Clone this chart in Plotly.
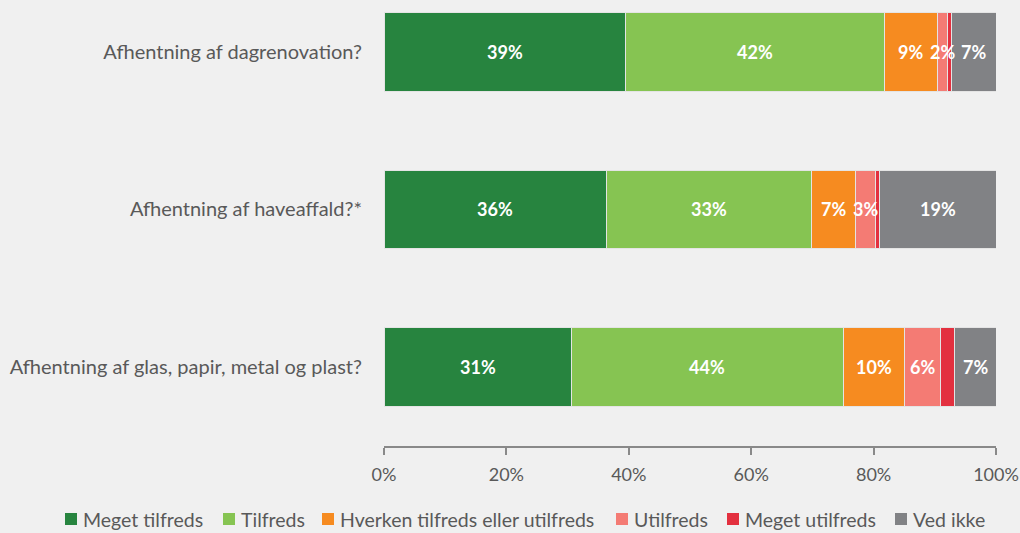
import plotly.graph_objects as go

# --- Data ---
questions = [
    "Afhentning af dagrenovation?",
    "Afhentning af haveaffald?*",
    "Afhentning af glas, papir, metal og plast?",
]
series_names = ["Meget tilfreds", "Tilfreds", "Hverken tilfreds eller utilfreds",
                "Utilfreds", "Meget utilfreds", "Ved ikke"]
meget_tilfreds = [39.4, 36.4, 30.6]
tilfreds = [42.3, 33.4, 44.4]
hverken = [8.7, 7.3, 10.1]
utilfreds = [1.7, 3.2, 5.8]
meget_utilfreds = [0.6, 0.6, 2.3]
ved_ikke = [7.3, 19.1, 6.8]
tick_vals = [0, 20, 40, 60, 80, 100]
tick_text = ["0%", "20%", "40%", "60%", "80%", "100%"]

values = [meget_tilfreds, tilfreds, hverken, utilfreds, meget_utilfreds, ved_ikke]
colors = ["#27843f", "#86c452", "#f68b20", "#f47b74", "#e3303f", "#818285"]
show_label = [True, True, True, True, False, True]

FONT = "Lato"
BG = "#f0f0f0"
TXT = "#595959"

# plot area in pixels (left, width, bottom)
L, W, H = 384, 612, 446

fig = go.Figure()
ypos = list(range(len(questions)))
for name, vals, col in zip(series_names, values, colors):
    fig.add_trace(go.Bar(
        y=ypos, x=vals, name=name, orientation='h',
        marker=dict(color=col, line=dict(color="#e4e4e4", width=1)),
        width=0.5, hoverinfo='x+name', showlegend=False
    ))

# --- Labels centred in each segment ---
annotations = []
for i in range(len(questions)):
    left = 0
    for vals, show in zip(values, show_label):
        v = vals[i]
        if show:
            annotations.append(dict(
                x=left + v / 2, y=i, xref='x', yref='y',
                text=f"<b>{round(v)}%</b>", showarrow=False,
                font=dict(family=FONT, size=18, color="white")
            ))
        left += v

# --- Legend drawn by hand (plotly would wrap it to the plot width) ---
legend_px = [65, 223, 322, 616, 727, 895]
legend_y = (H - 519) / H
shapes = []
for name, col, px in zip(series_names, colors, legend_px):
    shapes.append(dict(type='rect', xref='paper', yref='paper',
                       x0=(px - L) / W, x1=(px + 12 - L) / W,
                       y0=legend_y - 6 / H, y1=legend_y + 6 / H,
                       fillcolor=col, line=dict(width=0)))
    annotations.append(dict(x=(px + 16 - L) / W, y=legend_y, xref='paper', yref='paper',
                            xanchor='left', yanchor='middle', showarrow=False,
                            text=name, font=dict(family=FONT, size=19.5, color=TXT)))

fig.update_layout(
    barmode='stack',
    width=1020, height=533,
    paper_bgcolor=BG, plot_bgcolor=BG,
    margin=dict(l=L, r=1020 - L - W, t=0, b=533 - H),
    font=dict(family=FONT, size=18, color=TXT),
    annotations=annotations,
    shapes=shapes,
    showlegend=False,
    xaxis=dict(range=[0, 100], tickvals=tick_vals, ticktext=tick_text,
               showgrid=False, zeroline=False, showline=True, linecolor="#898989",
               linewidth=2, ticks='outside', tickcolor="#898989", ticklen=7, tickwidth=2,
               ticklabelstandoff=4,
               tickfont=dict(family=FONT, size=18, color=TXT)),
    yaxis=dict(range=[2.497, -0.326], tickvals=ypos, ticktext=questions,
               showgrid=False, zeroline=False, showline=False, ticks='',
               ticklabelstandoff=21,
               tickfont=dict(family=FONT, size=20, color=TXT)),
)

fig.write_html("out.html", config={"displayModeBar": False},
               post_script="document.body.style.margin='0';")
